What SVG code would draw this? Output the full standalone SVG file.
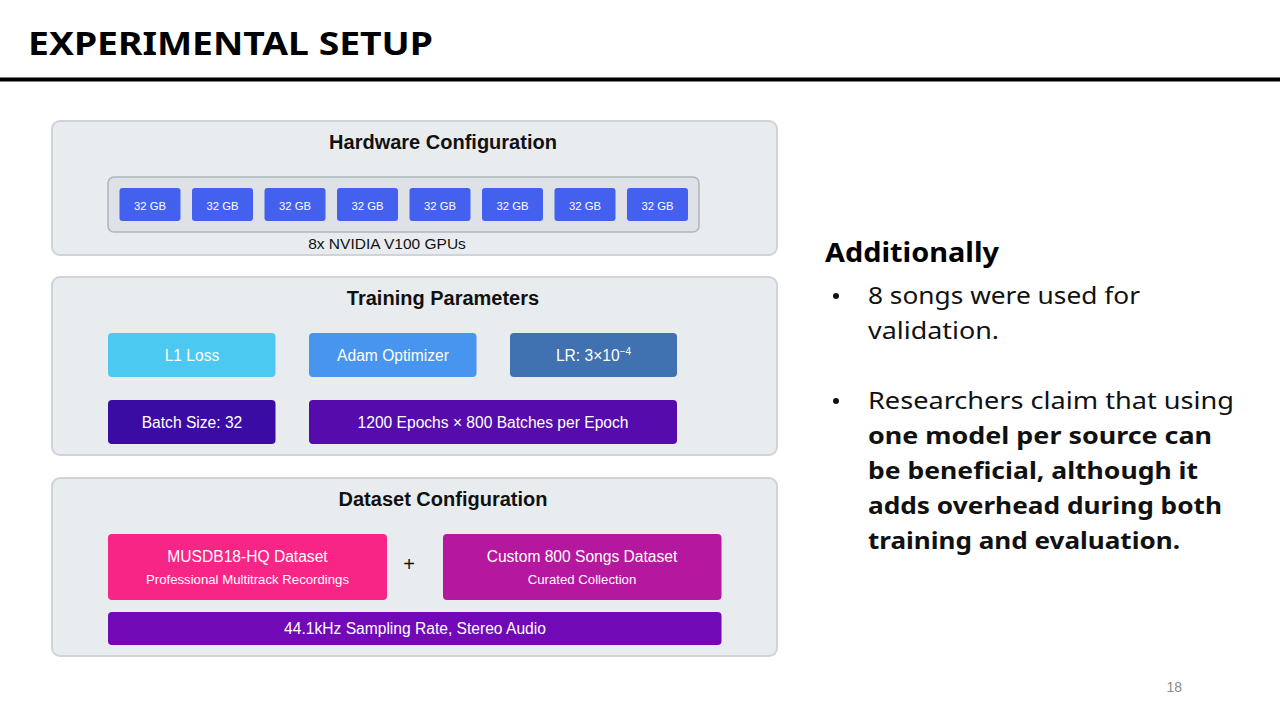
<svg xmlns="http://www.w3.org/2000/svg" width="1280" height="720" viewBox="0 0 1280 720">
  <style>
    .panel { fill: #e9ecef; stroke: #ced4da; stroke-width: 2; }
    .ptitle { font-family: "Liberation Sans", Arial, sans-serif; font-weight: bold; font-size: 20px; fill: #111; text-anchor: middle; }
    .gpu { fill: #4361ee; }
    .gpulbl { font-family: "Liberation Sans", Arial, sans-serif; font-size: 11.3px; fill: #fff; text-anchor: middle; }
    .lbl { font-family: "Liberation Sans", Arial, sans-serif; font-size: 15.6px; fill: #fff; text-anchor: middle; }
    .sub { font-family: "Liberation Sans", Arial, sans-serif; font-size: 13.2px; fill: #fff; text-anchor: middle; }
    .note { font-family: "Liberation Sans", Arial, sans-serif; font-size: 15.5px; fill: #111; text-anchor: middle; }
    .side { font-family: "Noto Sans", "Liberation Sans", sans-serif; font-size: 24px; fill: #111; }
    .sideb { font-family: "Noto Sans", "Liberation Sans", sans-serif; font-size: 24px; font-weight: bold; fill: #111; }
  </style>

  <rect width="1280" height="720" fill="#ffffff"/>

  <!-- Slide header -->
  <g id="header">
    <text x="28" y="55" font-family="'Noto Sans', 'Liberation Sans', sans-serif" font-weight="bold" font-size="33" fill="#000" textLength="405" lengthAdjust="spacingAndGlyphs">EXPERIMENTAL SETUP</text>
    <rect x="0" y="77.5" width="1280" height="4" fill="#000"/>
  </g>

  <!-- Hardware -->
  <g id="hardware">
    <rect class="panel" x="52" y="121" width="725" height="134" rx="8"/>
    <text class="ptitle" x="443" y="149">Hardware Configuration</text>
    <rect x="108" y="177" width="591" height="55" rx="6" fill="#dee2e6" stroke="#adb5bd" stroke-width="1.5"/>
    <g id="gpu1"><rect class="gpu" x="119.5" y="188" width="61" height="33" rx="3"/><text class="gpulbl" x="150" y="210">32 GB</text></g>
    <g id="gpu2"><rect class="gpu" x="192" y="188" width="61" height="33" rx="3"/><text class="gpulbl" x="222.5" y="210">32 GB</text></g>
    <g id="gpu3"><rect class="gpu" x="264.5" y="188" width="61" height="33" rx="3"/><text class="gpulbl" x="295" y="210">32 GB</text></g>
    <g id="gpu4"><rect class="gpu" x="337" y="188" width="61" height="33" rx="3"/><text class="gpulbl" x="367.5" y="210">32 GB</text></g>
    <g id="gpu5"><rect class="gpu" x="409.5" y="188" width="61" height="33" rx="3"/><text class="gpulbl" x="440" y="210">32 GB</text></g>
    <g id="gpu6"><rect class="gpu" x="482" y="188" width="61" height="33" rx="3"/><text class="gpulbl" x="512.5" y="210">32 GB</text></g>
    <g id="gpu7"><rect class="gpu" x="554.5" y="188" width="61" height="33" rx="3"/><text class="gpulbl" x="585" y="210">32 GB</text></g>
    <g id="gpu8"><rect class="gpu" x="627" y="188" width="61" height="33" rx="3"/><text class="gpulbl" x="657.5" y="210">32 GB</text></g>
    <text class="note" x="387" y="249">8x NVIDIA V100 GPUs</text>
  </g>

  <!-- Training -->
  <g id="training">
    <rect class="panel" x="52" y="277" width="725" height="178" rx="8"/>
    <text class="ptitle" x="443" y="305">Training Parameters</text>
    <g id="l1loss"><rect x="108" y="333" width="167.5" height="44" rx="4" fill="#4cc9f0"/><text class="lbl" x="192" y="361">L1 Loss</text></g>
    <g id="adam"><rect x="309" y="333" width="167.5" height="44" rx="4" fill="#4895ef"/><text class="lbl" x="393" y="361">Adam Optimizer</text></g>
    <g id="lr"><rect x="510" y="333" width="167" height="44" rx="4" fill="#4071b1"/><text class="lbl" x="593.5" y="361">LR: 3×10<tspan font-size="10" dy="-6">−4</tspan></text></g>
    <g id="batch"><rect x="108" y="400" width="167.5" height="44" rx="4" fill="#3a0ca3"/><text class="lbl" x="192" y="428">Batch Size: 32</text></g>
    <g id="epochs"><rect x="309" y="400" width="368" height="44" rx="4" fill="#560bad"/><text class="lbl" x="493" y="428">1200 Epochs × 800 Batches per Epoch</text></g>
  </g>

  <!-- Dataset -->
  <g id="dataset">
    <rect class="panel" x="52" y="478" width="725" height="178" rx="8"/>
    <text class="ptitle" x="443" y="506">Dataset Configuration</text>
    <g id="musdb"><rect x="108" y="534" width="279" height="66" rx="4" fill="#f72585"/>
      <text class="lbl" x="247.5" y="562">MUSDB18-HQ Dataset</text>
      <text class="sub" x="247.5" y="584">Professional Multitrack Recordings</text></g>
    <text x="409" y="571" font-family="'Liberation Sans', Arial, sans-serif" font-size="20" fill="#111" text-anchor="middle">+</text>
    <g id="custom"><rect x="443" y="534" width="278.5" height="66" rx="4" fill="#b5179e"/>
      <text class="lbl" x="582" y="562">Custom 800 Songs Dataset</text>
      <text class="sub" x="582" y="584">Curated Collection</text></g>
    <g id="audio"><rect x="108" y="612" width="613.5" height="33" rx="4" fill="#7209b7"/>
      <text class="lbl" x="415" y="634">44.1kHz Sampling Rate, Stereo Audio</text></g>
  </g>

  <!-- Side notes -->
  <g id="notes">
    <text x="825" y="262" font-family="'Noto Sans', 'Liberation Sans', sans-serif" font-weight="bold" font-size="27" fill="#000" textLength="174" lengthAdjust="spacingAndGlyphs">Additionally</text>
    <circle cx="836" cy="296" r="3" fill="#111"/>
    <text class="side" x="868" y="304" textLength="272" lengthAdjust="spacingAndGlyphs">8 songs were used for</text>
    <text class="side" x="868" y="339" textLength="131" lengthAdjust="spacingAndGlyphs">validation.</text>
    <circle cx="836" cy="401" r="3" fill="#111"/>
    <text class="side" x="868" y="409" textLength="366" lengthAdjust="spacingAndGlyphs">Researchers claim that using</text>
    <text class="sideb" x="868" y="444" textLength="344" lengthAdjust="spacingAndGlyphs">one model per source can</text>
    <text class="sideb" x="868" y="479" textLength="330" lengthAdjust="spacingAndGlyphs">be beneficial, although it</text>
    <text class="sideb" x="868" y="514" textLength="354" lengthAdjust="spacingAndGlyphs">adds overhead during both</text>
    <text class="sideb" x="868" y="549" textLength="312" lengthAdjust="spacingAndGlyphs">training and evaluation.</text>
  </g>

  <text x="1182" y="692" font-family="'Liberation Sans', Arial, sans-serif" font-size="14" fill="#8a8a8a" text-anchor="end">18</text>
</svg>
